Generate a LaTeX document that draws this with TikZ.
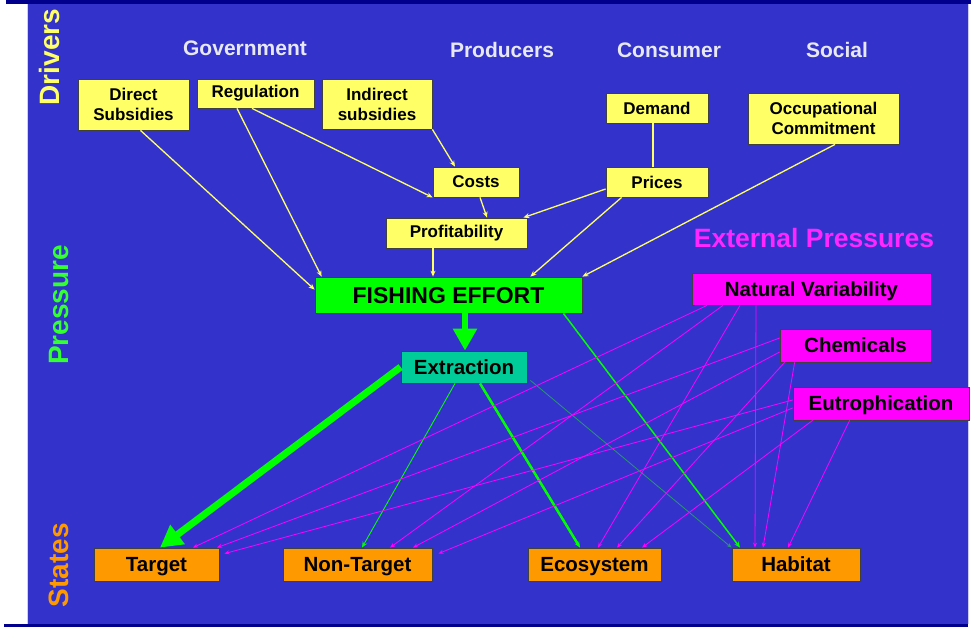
\documentclass[tikz,border=0pt]{standalone}
\usepackage{fontspec}
\setmainfont{Liberation Sans}
\usetikzlibrary{arrows.meta}

\definecolor{bgblue}{RGB}{51,51,204}
\definecolor{navy}{RGB}{0,0,140}
\definecolor{ylw}{RGB}{255,255,102}
\definecolor{lime}{RGB}{0,255,0}
\definecolor{teal}{RGB}{0,204,153}
\definecolor{mag}{RGB}{255,0,255}
\definecolor{orng}{RGB}{255,153,0}
\definecolor{dkgreen}{RGB}{40,150,110}
\definecolor{head}{RGB}{232,232,240}

\begin{document}
\begin{tikzpicture}[x=1pt,y=-1pt,>={Stealth[length=6pt,width=5pt]}]
	\tikzset{box/.style={draw=black!75,line width=0.8pt,inner sep=0pt,align=center,text=black}}
	\tikzset{capbox/.style={box,text height=#1,text depth=0pt}}
	\tikzset{ybox/.style={box,fill=ylw,font=\fontsize{17}{20}\selectfont\bfseries}}
	\tikzset{pbox/.style={capbox=14.8pt,fill=mag,font=\fontsize{20.5}{24}\selectfont\bfseries,minimum height=32pt}}
	\tikzset{sbox/.style={capbox=14.8pt,fill=orng,font=\fontsize{20.5}{24}\selectfont\bfseries,minimum height=33pt}}
	\tikzset{group/.style={text=head,font=\fontsize{21}{24}\selectfont\bfseries}}
	\tikzset{side/.style={rotate=90,font=\fontsize{28}{32}\selectfont\bfseries}}
	\tikzset{yarr/.style={->,draw=ylw,line width=1.3pt}}
	\tikzset{marr/.style={->,draw=mag,line width=0.8pt,>={Stealth[length=5pt,width=4pt]}}}
	\tikzset{garr/.style={->,draw=lime,line width=#1}}
	\tikzset{bigarr/.style={->,draw=lime,line width=#1,>={Triangle[length=22pt,width=23pt]}}}
	
	\useasboundingbox (0,0) rectangle (971,627);
	% frame
	\fill[white] (0,0) rectangle (971,627);
	\fill[bgblue] (28,4) rectangle (968,624);
	\fill[navy] (6,0) rectangle (971,4);
	\fill[navy] (4,624) rectangle (968,627);
	\fill[blue!20] (27,4) rectangle (28,624);
	\fill[blue!20] (968,4) rectangle (969,624);
	
	% headings
	\node[side,text=ylw] (drv) at (49,57) {Drivers};
	\node[side,text=lime!80!white] (prs) at (59,305) {Pressure};
	\node[side,text=orng] (sts) at (59,565) {States};
	\node[group] (gov) at (245,48) {Government};
	\node[group] (pro) at (502,50) {Producers};
	\node[group] (con) at (669,50) {Consumer};
	\node[group] (soc) at (837,50) {Social};
	\node[text=mag!85!white,font=\fontsize{26.5}{28}\selectfont\bfseries] (ext) at (814,238) {External Pressures};
	
	% drivers
	\node[ybox,minimum width=111pt,minimum height=51pt] (dsub) at (133.5,104.5) {Direct\\Subsidies};
	\node[ybox,minimum width=117pt,minimum height=29pt] (reg) at (255.5,93.5) {Regulation};
	\node[ybox,minimum width=110pt,minimum height=50pt] (isub) at (377,104) {Indirect\\subsidies};
	\node[ybox,minimum width=86pt,minimum height=30pt] (costs) at (476,182) {Costs};
	\node[ybox,minimum width=141pt,minimum height=30pt] (prof) at (456.5,233) {Profitability};
	\node[ybox,minimum width=102pt,minimum height=30pt] (dem) at (657,108) {Demand};
	\node[ybox,minimum width=102pt,minimum height=30pt] (pri) at (657,182) {Prices};
	\node[ybox,minimum width=151pt,minimum height=51pt] (occ) at (823.5,118.5) {Occupational\\Commitment};
	
	% pressure
	\node[capbox=16.5pt,fill=lime,minimum width=267pt,minimum height=36pt,font=\fontsize{23}{24}\selectfont\bfseries] (fe) at (448.5,295) {FISHING EFFORT};
	\node[capbox=14.8pt,fill=teal,minimum width=126pt,minimum height=32pt,font=\fontsize{20.5}{24}\selectfont\bfseries] (extr) at (464,367) {Extraction};
	\node[pbox,minimum width=239pt] (nv) at (811.5,289) {Natural Variability};
	\node[pbox,minimum width=151pt,minimum height=33pt] (chem) at (855.5,345.5) {Chemicals};
	\node[pbox,minimum width=176pt,minimum height=33pt] (eut) at (881,403.5) {Eutrophication};
	
	% states
	\node[sbox,minimum width=125pt] (tgt) at (156.5,564.5) {Target};
	\node[sbox,minimum width=149pt] (ntgt) at (357.5,564.5) {Non-Target};
	\node[sbox,minimum width=133pt] (eco) at (594.5,564.5) {Ecosystem};
	\node[sbox,minimum width=128pt] (hab) at (796,564.5) {Habitat};
	
	% driver links
	\path
	([xshift=7pt]dsub.south)      edge [yarr] ([yshift=-13pt]fe.north west)
	([xshift=-18.5pt]reg.south)   edge [yarr] ([xshift=7pt]fe.north west)
	([xshift=-3.5pt]reg.south)    edge [yarr] (costs.south west)
	(isub.south east)             edge [yarr] ([xshift=-21pt]costs.north)
	([xshift=4pt]costs.south)     edge [yarr] ([xshift=30.5pt]prof.north)
	([xshift=-23.5pt]prof.south)  edge [yarr] ([xshift=-15.5pt]fe.north)
	([yshift=-7pt]pri.west)       edge [yarr] ([xshift=-4pt]prof.north east)
	([xshift=16pt]pri.south west) edge [yarr] ([xshift=-52pt]fe.north east)
	([xshift=-4pt]dem.south)      edge [draw=ylw,line width=1.3pt] ([xshift=-4pt]pri.north)
	([xshift=11.5pt]occ.south)    edge [yarr] (fe.north east);
	
	% extraction links
	\path
	([xshift=16.5pt]fe.south)     edge [bigarr=6pt] ([xshift=1pt]extr.north)
	(extr.west)                   edge [bigarr=7pt] ([xshift=3.5pt]tgt.north)
	([xshift=-9pt]extr.south)     edge [garr=0.9pt] ([xshift=4.5pt]ntgt.north)
	([xshift=16pt]extr.south)     edge [garr=2.5pt] ([xshift=-14.5pt]eco.north)
	([xshift=-19pt]fe.south east) edge [garr=1.5pt] ([xshift=-56pt]hab.north)
	([xshift=3pt,yshift=3pt]extr.south east) edge [->,draw=dkgreen,line width=0.8pt,>={Stealth[length=5pt,width=4pt,fill=lime]}] (hab.north west);
	
	% external pressure links
	\path
	([xshift=-104.5pt]nv.south)   edge [marr] ([xshift=36.5pt]tgt.north)
	([xshift=-88.5pt]nv.south)    edge [marr] ([xshift=32.5pt]ntgt.north)
	([xshift=-71.5pt]nv.south)    edge [marr] ([xshift=3.5pt]eco.north)
	([xshift=-55.5pt]nv.south)    edge [marr] ([xshift=-41pt]hab.north)
	([yshift=7.5pt]chem.west)     edge [marr] ([xshift=60.5pt]tgt.north)
	([yshift=-6.5pt]chem.west)    edge [marr] ([xshift=55.5pt]ntgt.north)
	([xshift=5pt]chem.south west) edge [marr] ([xshift=22.5pt]eco.north)
	([xshift=15pt]chem.south west) edge [marr] ([xshift=-33pt]hab.north)
	([yshift=3.5pt]eut.west)      edge [marr] ([xshift=5pt,yshift=-6pt]tgt.north east)
	([yshift=-4.5pt]eut.west)     edge [marr] ([xshift=6pt,yshift=-6pt]ntgt.north east)
	([xshift=20pt]eut.south west) edge [marr] ([xshift=47.5pt]eco.north)
	([xshift=57pt]eut.south west) edge [marr] ([xshift=-8pt]hab.north);
	
\end{tikzpicture}
\end{document}
